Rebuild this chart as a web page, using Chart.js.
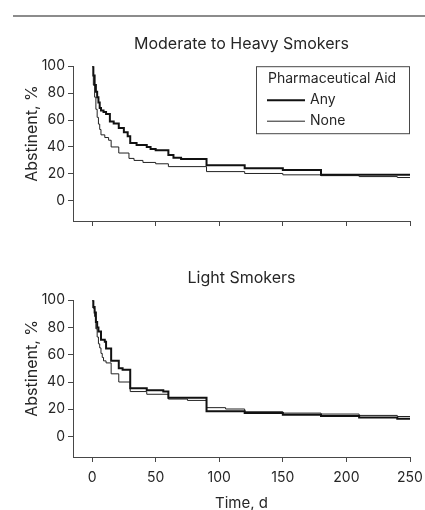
<!DOCTYPE html>
<html>
<head>
<meta charset="utf-8">
<script src="https://cdn.jsdelivr.net/npm/chart.js@4/dist/chart.umd.min.js"></script>
<style>
  body { margin: 0; background: #fff; }
  #wrap { position: relative; width: 425px; height: 510px; overflow: hidden; }
  #rule { position: absolute; left: 13px; top: 15px; width: 412px; height: 2px; background: #8c8c8c; }
  canvas { position: absolute; left: 0; }
  #heavyChart { top: 0; }
  #lightChart { top: 240px; }
</style>
</head>
<body>
<div id="wrap">
  <div id="rule"></div>
  <canvas id="heavyChart" width="425" height="240"></canvas>
  <canvas id="lightChart" width="425" height="280"></canvas>
</div>
<script>
// Labels
const panelTitles = ['Moderate to Heavy Smokers', 'Light Smokers'];
const seriesNames = ['Any', 'None'];
const legendTitle = 'Pharmaceutical Aid';
const yAxisTitle = 'Abstinent, %';
const xAxisTitle = 'Time, d';
const xTicks = [0, 50, 100, 150, 200, 250];
const yTicks = [0, 20, 40, 60, 80, 100];

// Moderate to heavy smokers (Kaplan-Meier steps: day, % abstinent)
const heavyAnyDays = [0, 1, 2, 3, 4, 5, 6, 7, 9, 11, 14, 17, 21, 25, 28, 30, 35, 43, 46, 50, 60, 64, 70, 90, 120, 150, 180, 250];
const heavyAnyPct  = [100, 93, 86, 81, 77, 73, 69, 67, 66, 64.5, 59, 57.5, 54, 51, 48, 43, 41.5, 40, 38.5, 37.5, 34, 32, 31, 26.5, 24.2, 22.8, 19.3, 19.3];
const heavyNoneDays = [0, 1, 2, 3, 4, 5, 6, 7, 10, 13, 15, 21, 29, 33, 40, 50, 60, 90, 120, 150, 180, 210, 240, 250];
const heavyNonePct  = [100, 86, 77, 68, 62, 57, 53, 49, 47, 45, 40, 35.5, 31.5, 30, 28.5, 27.5, 25.4, 21.7, 20.3, 19.3, 18.7, 18, 17.3, 17.3];

// Light smokers
const lightAnyDays = [0, 1, 2, 3, 4, 5, 7, 10, 11, 15, 21, 24, 30, 43, 56, 60, 90, 120, 150, 180, 210, 240, 250];
const lightAnyPct  = [100, 95, 91, 84, 80, 77, 71, 69.5, 64.5, 55.5, 50, 49, 35.5, 34, 33, 28.5, 18.5, 17.2, 16, 15, 14, 13, 13];
const lightNoneDays = [0, 1, 2, 3, 4, 5, 6, 7, 8, 9, 11, 15, 21, 30, 43, 60, 75, 90, 105, 120, 150, 180, 210, 240, 250];
const lightNonePct  = [100, 94, 88, 79, 73, 68, 65, 61, 58, 55.5, 54, 46, 40, 33, 31, 27.5, 26.5, 21.2, 20.2, 18.2, 17.2, 16.5, 15.5, 14.7, 14.7];

const FONT = 'Inter, "Liberation Sans", Arial, sans-serif';
const TEXT = '#262626';
const AXIS = '#474747';

Chart.defaults.font.family = FONT;
Chart.defaults.color = TEXT;

function toPoints(days, pct) {
    return days.map((d, i) => ({ x: d, y: pct[i] }));
}

// y axis title centred on the 0-100 range, plus the boxed legend
const panelDecor = {
    id: 'panelDecor',
    afterDraw(chart, args, opts) {
        const ctx = chart.ctx;
        const ys = chart.scales.y;
        const cy = (ys.getPixelForValue(yTicks[0]) + ys.getPixelForValue(yTicks[yTicks.length - 1])) / 2;
        ctx.save();
        ctx.fillStyle = TEXT;
        ctx.font = '16px ' + FONT;
        ctx.translate(32, cy);
        ctx.rotate(-Math.PI / 2);
        ctx.textAlign = 'center';
        ctx.textBaseline = 'middle';
        ctx.fillText(opts.yTitle, 0, 0);
        ctx.restore();

        if (!opts.legend) return;
        const ca = chart.chartArea;
        const bw = 154, bh = 68;
        const bx = ca.right - bw, by = ca.top;
        ctx.save();
        ctx.strokeStyle = AXIS;
        ctx.lineWidth = 1;
        ctx.strokeRect(bx + 0.5, by + 0.5, bw - 1, bh - 1);
        ctx.fillStyle = TEXT;
        ctx.font = '14px ' + FONT;
        ctx.textAlign = 'left';
        ctx.textBaseline = 'middle';
        ctx.fillText(opts.legendTitle, bx + 12, by + 13);
        chart.data.datasets.forEach((ds, i) => {
            const y = by + 34 + i * 21;
            ctx.strokeStyle = ds.borderColor;
            ctx.lineWidth = ds.borderWidth;
            ctx.beginPath();
            ctx.moveTo(bx + 11, y);
            ctx.lineTo(bx + 49, y);
            ctx.stroke();
            ctx.fillText(ds.label, bx + 54, y);
        });
        ctx.restore();
    }
};

function makePanel(canvasId, title, anyPts, nonePts, cfg) {
    const ctx = document.getElementById(canvasId).getContext('2d');
    return new Chart(ctx, {
        type: 'line',
        data: {
            datasets: [{
                label: seriesNames[0],
                data: anyPts,
                borderColor: '#111',
                borderWidth: 2,
                stepped: true,
                pointRadius: 0,
                fill: false
            }, {
                label: seriesNames[1],
                data: nonePts,
                borderColor: '#222',
                borderWidth: 1,
                stepped: true,
                pointRadius: 0,
                fill: false
            }]
        },
        options: {
            responsive: false,
            animation: false,
            devicePixelRatio: 1,
            layout: { padding: { left: 0, right: 15, top: 0, bottom: 0 } },
            plugins: {
                legend: { display: false },
                tooltip: { enabled: false },
                title: {
                    display: true,
                    text: title,
                    fullSize: false,
                    color: TEXT,
                    font: { size: 16, weight: 'normal', lineHeight: 1.2 },
                    padding: { top: cfg.titleTop, bottom: 12.8 }
                },
                panelDecor: { yTitle: yAxisTitle, legend: cfg.legend, legendTitle: legendTitle }
            },
            scales: {
                x: {
                    type: 'linear',
                    min: -15,
                    max: 250,
                    afterBuildTicks: axis => { axis.ticks = xTicks.map(v => ({ value: v })); },
                    afterFit: axis => {
                        axis.height = cfg.xHeight;
                        axis.paddingLeft = 0;
                        axis.paddingRight = 0;
                    },
                    grid: { drawOnChartArea: false, drawTicks: true, tickLength: 5, color: AXIS },
                    border: { display: true, color: AXIS, width: 1 },
                    ticks: { display: cfg.xLabels, padding: 7, color: TEXT, font: { size: 14 }, maxRotation: 0 },
                    title: {
                        display: cfg.xLabels,
                        text: xAxisTitle,
                        color: TEXT,
                        font: { size: 15 },
                        padding: { top: 0, bottom: 8 }
                    }
                },
                y: {
                    type: 'linear',
                    min: -15,
                    max: 100,
                    afterBuildTicks: axis => { axis.ticks = yTicks.map(v => ({ value: v })); },
                    afterFit: axis => { axis.width = 73; },
                    grid: { drawOnChartArea: false, drawTicks: true, tickLength: 5, color: AXIS },
                    border: { display: true, color: AXIS, width: 1 },
                    ticks: { padding: 3, color: TEXT, font: { size: 14 } }
                }
            }
        },
        plugins: [panelDecor]
    });
}

makePanel('heavyChart', panelTitles[0],
    toPoints(heavyAnyDays, heavyAnyPct), toPoints(heavyNoneDays, heavyNonePct),
    { titleTop: 34.2, xHeight: 19, xLabels: false, legend: true });

makePanel('lightChart', panelTitles[1],
    toPoints(lightAnyDays, lightAnyPct), toPoints(lightNoneDays, lightNonePct),
    { titleTop: 28.2, xHeight: 63, xLabels: true, legend: false });
</script>
</body>
</html>
